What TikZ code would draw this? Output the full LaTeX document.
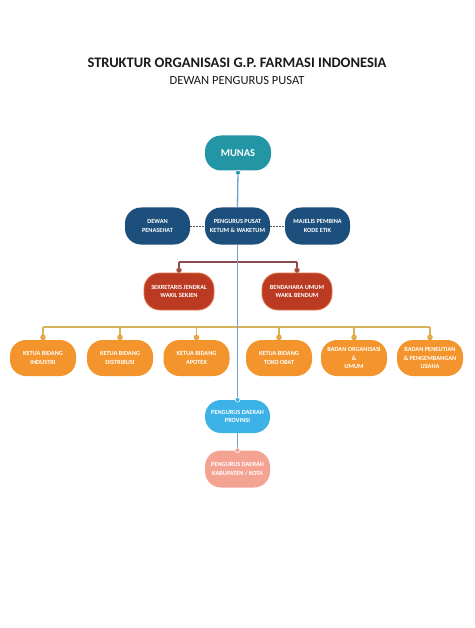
\documentclass[tikz,border=0pt]{standalone}
\usepackage{fontspec}
\setmainfont{Carlito}
\begin{document}
\begin{tikzpicture}[x=1pt,y=-1pt,
  box/.style={rounded corners=16pt, minimum height=37pt, text=white, font=\fontsize{6.3}{8.8}\selectfont\bfseries, align=center, inner sep=1pt},
  munasbox/.style={box, fill=munas, minimum width=66pt, minimum height=35pt, font=\fontsize{10.5}{12}\selectfont\bfseries},
  bluebox/.style={box, fill=dblue, minimum width=65pt},
  redbox/.style={box, fill=rbox, draw=rboxline, line width=0.8pt, minimum width=70pt},
  orangebox/.style={box, fill=obox, minimum width=66pt, minimum height=36pt},
  provbox/.style={box, fill=pbox, minimum width=65pt, minimum height=33pt},
  kabbox/.style={box, fill=kbox, minimum width=65pt},
  mainline/.style={draw=mline, line width=1.3pt},
  redline/.style={draw=rline, line width=1.2pt},
  orline/.style={draw=oline, line width=1.2pt},
  dashline/.style={draw=dline, line width=1pt, dash pattern=on 2pt off 1pt},
]
\definecolor{munas}{HTML}{2396A6}
\definecolor{dblue}{HTML}{1D4F7C}
\definecolor{rbox}{HTML}{BB3A22}
\definecolor{rboxline}{HTML}{E0744A}
\definecolor{obox}{HTML}{F3952C}
\definecolor{pbox}{HTML}{3DB2E6}
\definecolor{kbox}{HTML}{F4A393}
\definecolor{mline}{HTML}{6FA3CE}
\definecolor{rline}{HTML}{8C4B4B}
\definecolor{oline}{HTML}{D8B25A}
\definecolor{dline}{HTML}{555555}
\definecolor{ttl}{HTML}{1A1A1A}
\useasboundingbox[fill=white] (0,0) rectangle (474,628);

\node[font=\fontsize{14.5}{17}\selectfont\bfseries, text=ttl] (title) at (237,63) {STRUKTUR ORGANISASI G.P. FARMASI INDONESIA};
\node[font=\fontsize{12.5}{15}\selectfont, text=ttl] (subtitle) at (237,80) {DEWAN PENGURUS PUSAT};

% coordinates for connector routing
\coordinate (rl) at (179,262);
\coordinate (rr) at (297,262);
\coordinate (ol) at (43,327);
\coordinate (or) at (430,327);

% horizontal connectors (under the main line)
\draw[redline] (rl) -- (rr);
\draw[orline] (ol) -- (or);

% boxes
\node[munasbox] (munas) at (238,153) {MUNAS};
\node[bluebox] (dewan) at (157.5,226) {DEWAN\\PENASEHAT};
\node[bluebox] (pusat) at (237.5,226) {PENGURUS PUSAT\\KETUM \& WAKETUM};
\node[bluebox] (majelis) at (317.5,226) {MAJELIS PEMBINA\\KODE ETIK};

\node[redbox] (sekjen) at (179,291.5) {SEKRETARIS JENDRAL\\WAKIL SEKJEN};
\node[redbox] (bendum) at (297,291.5) {BENDAHARA UMUM\\WAKIL BENDUM};

\node[orangebox] (o1) at (43,358) {KETUA BIDANG\\INDUSTRI};
\node[orangebox] (o2) at (120,358) {KETUA BIDANG\\DISTRIBUSI};
\node[orangebox] (o3) at (196.5,358) {KETUA BIDANG\\APOTEK};
\node[orangebox] (o4) at (279,358) {KETUA BIDANG\\TOKO OBAT};
\node[orangebox] (o5) at (354,358) {BADAN ORGANISASI\\\&\\UMUM};
\node[orangebox] (o6) at (430,358) {BADAN PENELITIAN\\\& PENGEMBANGAN\\USAHA};

\node[provbox] (prov) at (237.5,416.5) {PENGURUS DAERAH\\PROVINSI};
\node[kabbox] (kab) at (237.5,469) {PENGURUS DAERAH\\KABUPATEN / KOTA};

% main vertical line
\draw[mainline] (munas.south) -- (pusat.north);
\draw[mainline] (pusat.south) -- (prov.north);
\draw[mainline] (prov.south) -- (kab.north);

% dashed links
\draw[dashline] (dewan.east) -- (pusat.west);
\draw[dashline] (pusat.east) -- (majelis.west);

% red branch verticals
\draw[redline] (rl) -- (sekjen.north);
\draw[redline] (rr) -- (bendum.north);

% orange branch verticals
\foreach \n/\x in {o1/43,o2/120,o3/196.5,o4/279,o5/354,o6/430}{
  \draw[orline] (\x,327) -- (\n.north);
  \filldraw[fill=oline, draw=obox, line width=0.6pt] (\n.north) ++(0,-2.4) circle (2.4pt);
}

% markers
\filldraw[fill=munas, draw=white, line width=0.5pt] (munas.south) ++(0,2) circle (2.4pt);
\filldraw[fill=rline, draw=rboxline, line width=0.6pt] (sekjen.north) ++(0,-2.4) circle (2.4pt);
\filldraw[fill=rline, draw=rboxline, line width=0.6pt] (bendum.north) ++(0,-2.4) circle (2.4pt);
\filldraw[fill=pbox, draw=white, line width=0.5pt] (prov.north) circle (2.4pt);
\filldraw[fill=kbox, draw=white, line width=0.5pt] (kab.north) circle (2.4pt);
\end{tikzpicture}
\end{document}
